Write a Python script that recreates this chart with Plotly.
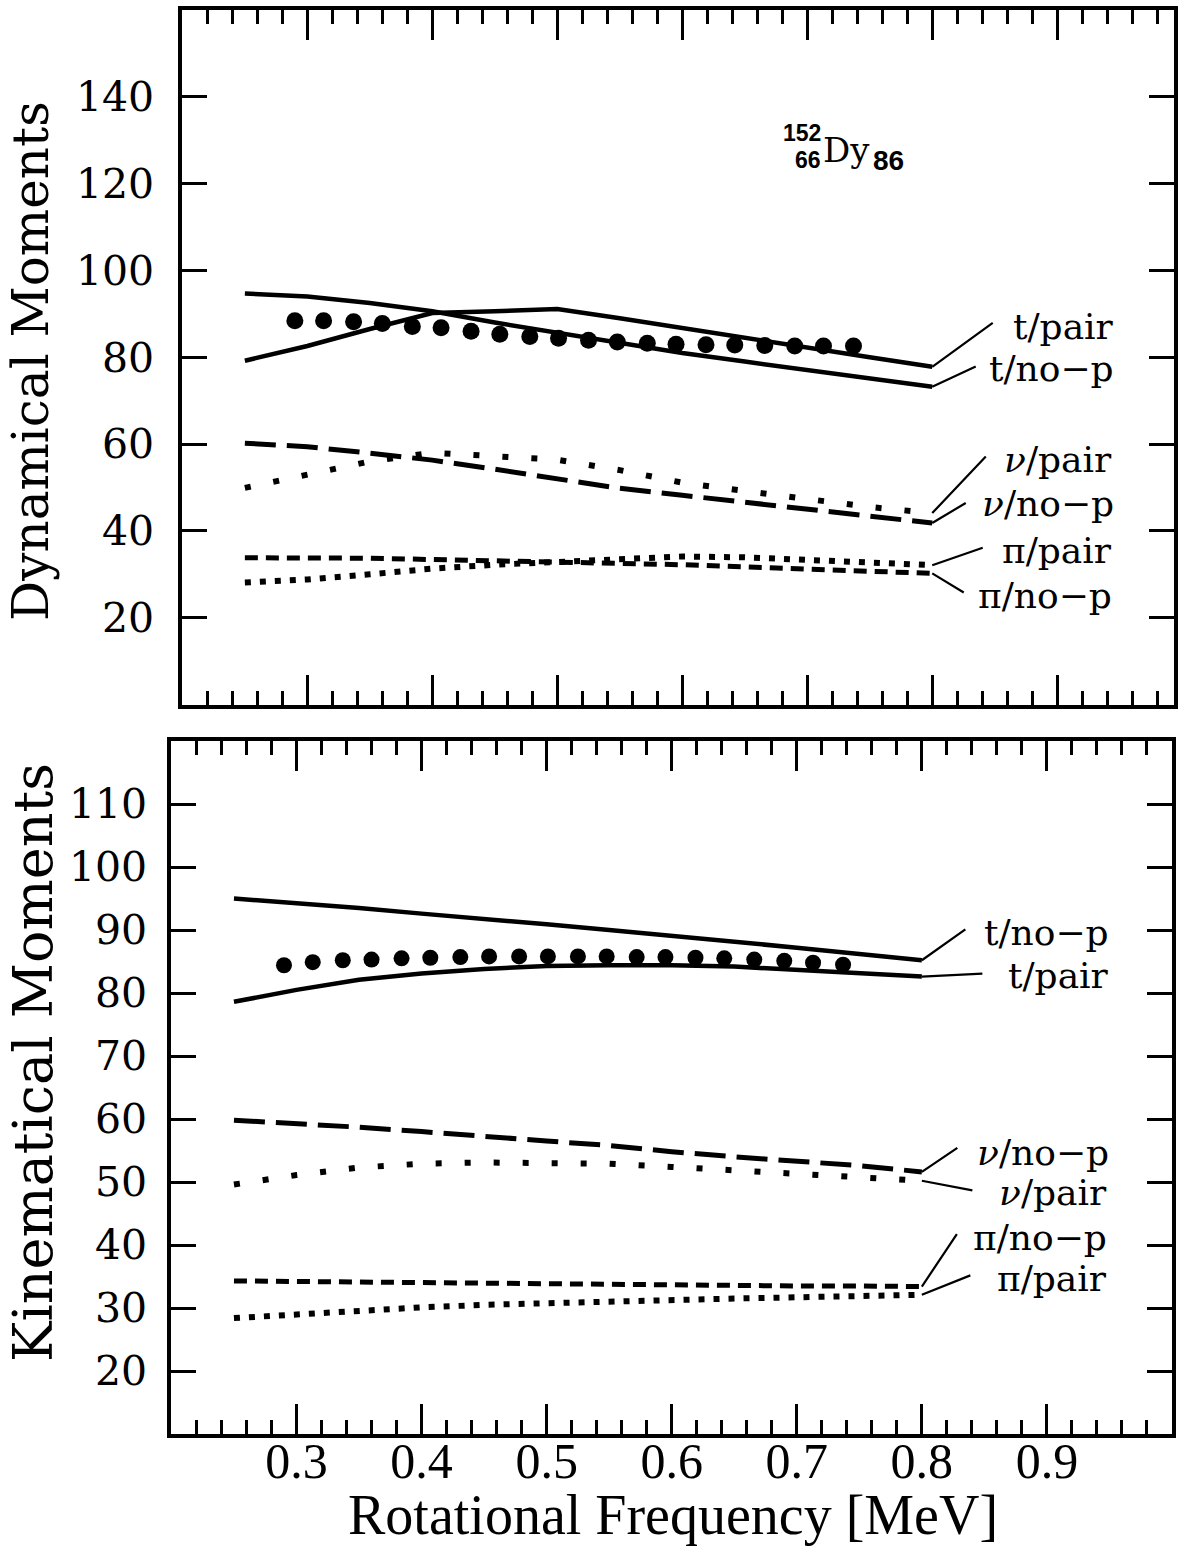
import plotly.graph_objects as go

W, H = 1178, 1548

# ---------------- data ----------------
FREQ = [0.25, 0.30, 0.35, 0.40, 0.45, 0.50, 0.55, 0.60, 0.65, 0.70, 0.75, 0.80]
EXP_FREQ = [0.290, 0.313, 0.337, 0.360, 0.384, 0.407, 0.431, 0.454, 0.478, 0.501,
            0.525, 0.548, 0.572, 0.595, 0.619, 0.642, 0.666, 0.690, 0.713, 0.737]

# Dynamical moments (upper panel)
dyn_t_nop = [94.7, 94.0, 92.5, 90.6, 88.0, 85.6, 83.3, 81.0, 79.0, 77.1, 75.1, 73.2]
dyn_t_pair = [79.2, 82.6, 86.5, 90.2, 90.6, 91.1, 89.0, 86.7, 84.6, 82.3, 80.0, 77.8]
dyn_nu_nop = [60.2, 59.4, 57.9, 56.3, 54.2, 52.0, 49.8, 48.2, 46.6, 45.1, 43.4, 41.8]
dyn_nu_pair = [49.9, 52.9, 56.0, 58.0, 57.2, 56.4, 54.0, 51.1, 49.2, 47.4, 45.5, 44.1]
dyn_pi_nop = [33.8, 33.8, 33.7, 33.4, 33.1, 32.9, 32.6, 32.2, 31.7, 31.2, 30.7, 30.2]
dyn_pi_pair = [28.1, 28.8, 30.0, 31.3, 32.2, 32.9, 33.5, 34.1, 33.9, 33.3, 32.8, 32.1]
dyn_exp = [88.4, 88.4, 88.2, 87.8, 87.1, 86.8, 86.0, 85.3, 84.8, 84.4,
           83.9, 83.5, 83.2, 83.0, 82.9, 82.8, 82.7, 82.6, 82.6, 82.6]

# Kinematical moments (lower panel)
kin_t_nop = [95.0, 94.3, 93.5, 92.6, 91.8, 90.9, 90.0, 89.1, 88.2, 87.2, 86.2, 85.2]
kin_t_pair = [78.6, 80.5, 82.1, 83.1, 83.8, 84.3, 84.4, 84.4, 84.2, 83.7, 83.2, 82.6]
kin_nu_nop = [59.8, 59.3, 58.7, 58.0, 57.2, 56.5, 55.8, 54.8, 54.0, 53.3, 52.6, 51.6]
kin_nu_pair = [49.6, 51.1, 52.3, 52.9, 53.1, 53.0, 52.9, 52.4, 51.9, 51.3, 50.8, 50.2]
kin_pi_nop = [34.3, 34.2, 34.1, 34.0, 33.9, 33.8, 33.7, 33.6, 33.6, 33.5, 33.5, 33.4]
kin_pi_pair = [28.4, 29.0, 29.6, 30.1, 30.5, 30.8, 31.1, 31.3, 31.5, 31.7, 31.9, 32.1]
kin_exp = [84.4, 84.9, 85.2, 85.3, 85.5, 85.6, 85.7, 85.8, 85.8, 85.8,
           85.8, 85.8, 85.7, 85.7, 85.6, 85.5, 85.3, 85.1, 84.8, 84.5]

X_TICKS = [0.2, 0.3, 0.4, 0.5, 0.6, 0.7, 0.8, 0.9, 1.0]
X_TICK_TEXT = ["", "0.3", "0.4", "0.5", "0.6", "0.7", "0.8", "0.9", ""]
DYN_TICKS = [20, 40, 60, 80, 100, 120, 140]
KIN_TICKS = [20, 30, 40, 50, 60, 70, 80, 90, 100, 110]

# ---------------- styles ----------------
BLACK = "#000000"
STYLE = {
    "t": dict(width=4.5, dash="solid"),
    "nu_nop": dict(width=5, dash="31px,11px"),
    "nu_pair": dict(width=6, dash="6px,23px"),
    "pi_nop": dict(width=5, dash="13px,8px"),
    "pi_pair": dict(width=6, dash="6px,9px"),
}

fig = go.Figure()


def add_curve(xa, ya, y, style):
    fig.add_trace(go.Scatter(x=FREQ, y=y, xaxis=xa, yaxis=ya, mode="lines",
                             line=dict(color=BLACK, **STYLE[style]),
                             showlegend=False, hoverinfo="skip"))


# upper panel
add_curve("x", "y", dyn_t_nop, "t")
add_curve("x", "y", dyn_t_pair, "t")
add_curve("x", "y", dyn_nu_nop, "nu_nop")
add_curve("x", "y", dyn_nu_pair, "nu_pair")
add_curve("x", "y", dyn_pi_nop, "pi_nop")
add_curve("x", "y", dyn_pi_pair, "pi_pair")
fig.add_trace(go.Scatter(x=EXP_FREQ, y=dyn_exp, xaxis="x", yaxis="y", mode="markers",
                         marker=dict(color=BLACK, size=17), showlegend=False))

# lower panel
add_curve("x2", "y2", kin_t_nop, "t")
add_curve("x2", "y2", kin_t_pair, "t")
add_curve("x2", "y2", kin_nu_nop, "nu_nop")
add_curve("x2", "y2", kin_nu_pair, "nu_pair")
add_curve("x2", "y2", kin_pi_nop, "pi_nop")
add_curve("x2", "y2", kin_pi_pair, "pi_pair")
fig.add_trace(go.Scatter(x=EXP_FREQ, y=kin_exp, xaxis="x2", yaxis="y2", mode="markers",
                         marker=dict(color=BLACK, size=16), showlegend=False))

# ---------------- axes ----------------
def px_x(p):
    return p / W


def px_y(p):
    return 1 - p / H


TICK_FONT_Y = dict(family="DejaVu Serif", size=41, color=BLACK)
TICK_FONT_X = dict(family="Liberation Serif", size=50, color=BLACK)

xcommon = dict(showline=True, linecolor=BLACK, linewidth=4, mirror="ticks",
               ticks="inside", ticklen=30, tickwidth=3, tickcolor=BLACK,
               tickmode="array", tickvals=X_TICKS, ticktext=X_TICK_TEXT,
               minor=dict(tickmode="linear", tick0=0.2, dtick=0.02, ticks="inside",
                          ticklen=14, tickwidth=2.5, tickcolor=BLACK, showgrid=False),
               showgrid=False, zeroline=False)
ycommon = dict(showline=True, linecolor=BLACK, linewidth=4, mirror="ticks",
               ticks="inside", ticklen=25, tickwidth=3, tickcolor=BLACK,
               tickmode="array", showgrid=False, zeroline=False,
               tickfont=TICK_FONT_Y)

fig.update_layout(
    width=W, height=H, autosize=False,
    margin=dict(l=0, r=0, t=0, b=0),
    paper_bgcolor="white", plot_bgcolor="white",
    xaxis=dict(domain=[px_x(183), 1.0], range=[0.2, 0.2 + (W - 183) / 1254.0],
               showticklabels=False, anchor="y", **xcommon),
    yaxis=dict(domain=[px_y(704.5), px_y(10)], range=[0, 160], anchor="x",
               tickvals=DYN_TICKS, ticktext=[str(v) for v in DYN_TICKS],
               ticklabelstandoff=16, **ycommon),
    xaxis2=dict(domain=[px_x(172), px_x(1176)], range=[0.2, 1.0], anchor="y2",
                showticklabels=True, tickfont=TICK_FONT_X, ticklabelstandoff=-20,
                **xcommon),
    yaxis2=dict(domain=[px_y(1434), px_y(741)], range=[10, 120], anchor="x2",
                tickvals=KIN_TICKS, ticktext=[str(v) for v in KIN_TICKS],
                ticklabelstandoff=12, **ycommon),
)

# ---------------- text ----------------
ann = []
ann.append(dict(text="Dynamical Moments", x=px_x(31), y=px_y(361), xref="paper", yref="paper",
                textangle=-90, showarrow=False, xanchor="center", yanchor="middle",
                font=dict(family="DejaVu Serif", size=50, color=BLACK)))
ann.append(dict(text="Kinematical Moments", x=px_x(33), y=px_y(1062), xref="paper", yref="paper",
                textangle=-90, showarrow=False, xanchor="center", yanchor="middle",
                font=dict(family="DejaVu Serif", size=54, color=BLACK)))
ann.append(dict(text="Rotational Frequency [MeV]", x=px_x(675), y=0, xref="paper",
                yref="paper", showarrow=False, xanchor="center", yanchor="bottom",
                font=dict(family="Liberation Serif", size=56, color=BLACK)))

# nucleus label
ann.append(dict(text="<b>152</b>", x=px_x(826), y=px_y(133), xref="paper", yref="paper",
                showarrow=False, xanchor="right", yanchor="middle",
                font=dict(family="Liberation Sans", size=23, color=BLACK)))
ann.append(dict(text="<b>66</b>", x=px_x(826), y=px_y(160), xref="paper", yref="paper",
                showarrow=False, xanchor="right", yanchor="middle",
                font=dict(family="Liberation Sans", size=23, color=BLACK)))
ann.append(dict(text="Dy", x=px_x(824), y=px_y(150), xref="paper", yref="paper",
                showarrow=False, xanchor="left", yanchor="middle",
                font=dict(family="DejaVu Serif", size=34, color=BLACK)))
ann.append(dict(text="<b>86</b>", x=px_x(874), y=px_y(160), xref="paper", yref="paper",
                showarrow=False, xanchor="left", yanchor="middle",
                font=dict(family="Liberation Sans", size=28, color=BLACK)))

LABEL_FONT = dict(family="DejaVu Serif", size=36, color=BLACK)

# (label, series, axes, leader dx, leader dy, label right edge px, label centre y px)
labels = [
    ("t/pair", dyn_t_pair, ("x", "y"), 62, -45, 1120, 327),
    ("t/no\u2212p", dyn_t_nop, ("x", "y"), 45, -21, 1120, 368),
    ("<i>\u03bd</i>/pair", dyn_nu_pair, ("x", "y"), 55, -58, 1118, 460),
    ("<i>\u03bd</i>/no\u2212p", dyn_nu_nop, ("x", "y"), 35, -21, 1120, 503),
    ("\u03c0/pair", dyn_pi_pair, ("x", "y"), 52, -18, 1118, 550),
    ("\u03c0/no\u2212p", dyn_pi_nop, ("x", "y"), 33, 20, 1118, 595),
    ("t/no\u2212p", kin_t_nop, ("x2", "y2"), 45, -32, 1115, 933),
    ("t/pair", kin_t_pair, ("x2", "y2"), 62, -3, 1115, 975),
    ("<i>\u03bd</i>/no\u2212p", kin_nu_nop, ("x2", "y2"), 37, -25, 1115, 1152),
    ("<i>\u03bd</i>/pair", kin_nu_pair, ("x2", "y2"), 52, 10, 1113, 1192),
    ("\u03c0/no\u2212p", kin_pi_nop, ("x2", "y2"), 36, -54, 1113, 1237),
    ("\u03c0/pair", kin_pi_pair, ("x2", "y2"), 50, -20, 1113, 1278),
]
for text, series, (xa, ya), dx, dy, rx, cy in labels:
    ann.append(dict(text="", x=FREQ[-1], y=series[-1], xref=xa, yref=ya,
                    showarrow=True, arrowhead=0, arrowwidth=2.2, arrowcolor=BLACK,
                    ax=dx, ay=dy, axref="pixel", ayref="pixel", standoff=0))
    ann.append(dict(text=text, x=px_x(rx), y=px_y(cy), xref="paper", yref="paper",
                    showarrow=False, xanchor="right", yanchor="middle", font=LABEL_FONT))

fig.update_layout(annotations=ann)

# remove the default page margin so the figure fills the window exactly
fig.write_html("out.html",
               config={"displayModeBar": False},
               post_script="document.body.style.margin='0';"
                           "document.body.style.overflow='hidden';")
